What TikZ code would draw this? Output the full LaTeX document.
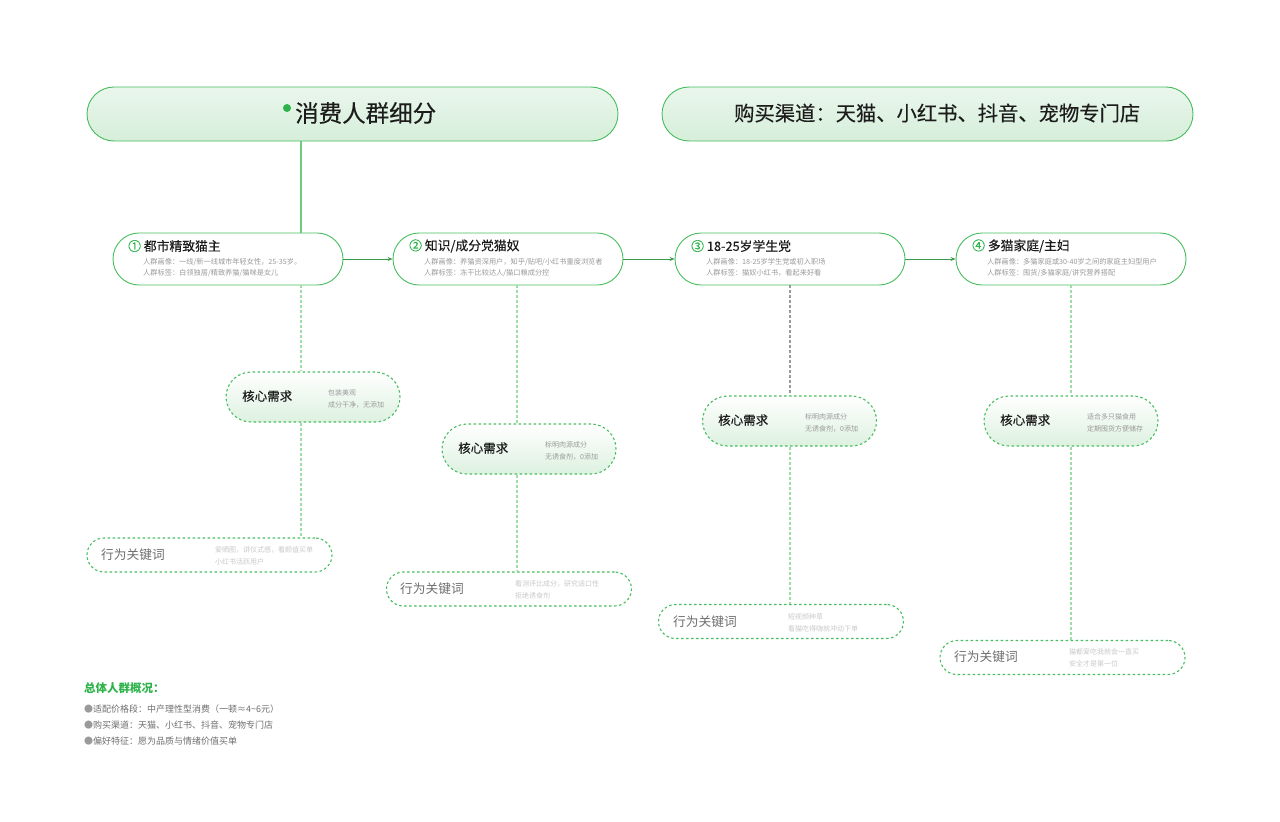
\documentclass[tikz,border=0pt]{standalone}
\usepackage{fontspec}
\setmainfont{Noto Sans CJK SC}
\newfontfamily\medfont{Noto Sans CJK SC}[FakeBold=0.25]
\usetikzlibrary{arrows.meta}

\definecolor{grn}{HTML}{2DB34A}
\definecolor{lgrn}{HTML}{46BE5E}
\definecolor{dgrn}{HTML}{3A9A4A}
\definecolor{pgrn}{HTML}{9EDCA8}
\definecolor{hdtop}{HTML}{EAF7EC}
\definecolor{hdbot}{HTML}{D6EEDA}
\definecolor{cbot}{HTML}{DDF1E0}
\definecolor{ink}{HTML}{1C1C1C}
\definecolor{gry}{HTML}{9A9A9A}
\definecolor{mgry}{HTML}{6E6E6E}
\definecolor{lgry}{HTML}{C9C9C9}

\tikzset{
  hdbox/.style={draw=lgrn, line width=0.9pt, rounded corners=27pt, top color=hdtop, bottom color=hdbot,
    minimum width=531pt, minimum height=54pt},
  hdtext/.style={anchor=west, inner sep=0pt, text=ink},
  perbox/.style={draw=lgrn, line width=0.9pt, rounded corners=26pt, fill=white,
    minimum width=230pt, minimum height=52pt},
  pertitle/.style={anchor=west, inner sep=0pt, text=ink, font=\medfont\fontsize{12.8}{14}\selectfont},
  persmall/.style={anchor=west, inner sep=0pt, align=left, text=gry, font=\fontsize{7.2}{11}\selectfont},
  corebox/.style={draw=lgrn, line width=1.1pt, dash pattern=on 2.5pt off 2.5pt, rounded corners=25pt,
    top color=white, bottom color=cbot, minimum width=174pt, minimum height=50pt},
  coretitle/.style={anchor=west, inner sep=0pt, text=ink, font=\medfont\fontsize{12.5}{14}\selectfont},
  coresmall/.style={anchor=west, inner sep=0pt, align=left, text=gry, font=\fontsize{7}{12}\selectfont},
  kwbox/.style={draw=lgrn, line width=1.1pt, dash pattern=on 2.5pt off 2.5pt, rounded corners=17pt,
    fill=white, minimum width=245pt, minimum height=34pt},
  kwtitle/.style={anchor=west, inner sep=0pt, text=mgry, font=\fontsize{12.7}{14}\selectfont},
  kwsmall/.style={anchor=west, inner sep=0pt, align=left, text=lgry, font=\fontsize{7}{12}\selectfont},
  flow/.style={draw=dgrn, line width=0.8pt, -{Stealth[length=5pt,width=4pt]}},
  vline/.style={draw=pgrn, line width=1.2pt, dash pattern=on 3pt off 2pt},
  sumtext/.style={anchor=west, inner sep=0pt, text=mgry, font=\fontsize{9}{11}\selectfont},
}

\begin{document}
\begin{tikzpicture}[x=1pt, y=-1pt]
  \useasboundingbox (0,0) rectangle (1280,822);

  % 1. 顶部标题栏
  \node[hdbox] (h1) at (352.5,114) {};
  \node[hdbox] (h2) at (927.5,114) {};
  \node[circle, fill=grn, inner sep=0pt, minimum size=8pt] (hdot) at (287,108) {};
  \node[hdtext, font=\medfont\fontsize{23.5}{26}\selectfont] (h1t) at (295,113) {消费人群细分};
  \node[hdtext, font=\medfont\fontsize{20.3}{24}\selectfont] (h2t) at (734,113) {购买渠道：天猫、小红书、抖音、宠物专门店};

  % 竖线位置
  \coordinate (l1) at (301,0);
  \coordinate (l2) at (517,0);
  \coordinate (l3) at (790,0);
  \coordinate (l4) at (1071,0);

  % 2. 四类人群
  \node[perbox] (p1) at (228,259) {};
  \node[perbox] (p2) at (508,259) {};
  \node[perbox] (p3) at (790,259) {};
  \node[perbox] (p4) at (1071,259) {};

  \node[pertitle] (p1t) at (128,246) {\textcolor{grn}{①} 都市精致猫主};
  \node[persmall] (p1s) at (143,267.5) {人群画像：一线/新一线城市年轻女性，25-35岁。\\人群标签：白领独居/精致养猫/猫咪是女儿};
  \node[pertitle] (p2t) at (409,246) {\textcolor{grn}{②} 知识/成分党猫奴};
  \node[persmall] (p2s) at (424,267.5) {人群画像：养猫资深用户，知乎/贴吧/小红书重度浏览者\\人群标签：冻干比较达人/猫口粮成分控};
  \node[pertitle] (p3t) at (691,246) {\textcolor{grn}{③} 18-25岁学生党};
  \node[persmall] (p3s) at (706,267.5) {人群画像：18-25岁学生党或初入职场\\人群标签：猫奴小红书，看起来好看};
  \node[pertitle] (p4t) at (972,246) {\textcolor{grn}{④} 多猫家庭/主妇};
  \node[persmall] (p4s) at (987,267.5) {人群画像：多猫家庭或30-40岁之间的家庭主妇型用户\\人群标签：囤货/多猫家庭/讲究营养搭配};

  % 3. 核心需求
  \node[corebox] (c1) at (313,397) {};
  \node[corebox] (c2) at (529,449) {};
  \node[corebox] (c3) at (789.5,421) {};
  \node[corebox] (c4) at (1071,421) {};

  \node[coretitle] (c1t) at (242,396) {核心需求};
  \node[coresmall] (c1s) at (328,399) {包装美观\\成分干净，无添加};
  \node[coretitle] (c2t) at (458,448) {核心需求};
  \node[coresmall] (c2s) at (545,451) {标明肉源成分\\无诱食剂，0添加};
  \node[coretitle] (c3t) at (718,420) {核心需求};
  \node[coresmall] (c3s) at (805,423) {标明肉源成分\\无诱食剂，0添加};
  \node[coretitle] (c4t) at (1000,420) {核心需求};
  \node[coresmall] (c4s) at (1087,423) {适合多只猫食用\\定期囤货方便储存};

  % 4. 行为关键词
  \node[kwbox] (k1) at (209.5,555) {};
  \node[kwbox] (k2) at (509,589) {};
  \node[kwbox] (k3) at (781,621.5) {};
  \node[kwbox] (k4) at (1062.5,657.5) {};

  \node[kwtitle] (k1t) at (101,555) {行为关键词};
  \node[kwsmall] (k1s) at (215,556) {爱晒图，讲仪式感，看颜值买单\\小红书活跃用户};
  \node[kwtitle] (k2t) at (400,589) {行为关键词};
  \node[kwsmall] (k2s) at (515,590) {看测评比成分，研究适口性\\拒绝诱食剂};
  \node[kwtitle] (k3t) at (673,622) {行为关键词};
  \node[kwsmall] (k3s) at (788,623) {短视频种草\\看猫吃得嗨就冲动下单};
  \node[kwtitle] (k4t) at (954,657) {行为关键词};
  \node[kwsmall] (k4s) at (1069,658) {猫都爱吃我就会一直买\\安全才是第一位};

  % 5. 连线
  \draw[lgrn!80, line width=1.2pt] (l1 |- h1.south) -- (l1 |- p1.north);
  \draw[flow] (p1) -- (p2);
  \draw[flow] (p2) -- (p3);
  \draw[flow] (p3) -- (p4);

  \draw[vline] (l1 |- p1.south) -- (l1 |- c1.north);
  \draw[vline] (l1 |- c1.south) -- (l1 |- k1.north);
  \draw[vline] (l2 |- p2.south) -- (l2 |- c2.north);
  \draw[vline] (l2 |- c2.south) -- (l2 |- k2.north);
  \draw[vline, draw=gry] (l3 |- p3.south) -- (l3 |- c3.north);
  \draw[vline] (l3 |- c3.south) -- (l3 |- k3.north);
  \draw[vline] (l4 |- p4.south) -- (l4 |- c4.north);
  \draw[vline] (l4 |- c4.south) -- (l4 |- k4.north);

  % 6. 总体人群概况
  \node[anchor=west, inner sep=0pt, text=grn, font=\fontsize{11.5}{13}\selectfont\bfseries] (sumt) at (84,688) {总体人群概况：};
  \node[sumtext] (sum1) at (84,709) {\textcolor{gry}{●}适配价格段：中产理性型消费（一顿≈4\textasciitilde6元）};
  \node[sumtext] (sum2) at (84,725) {\textcolor{gry}{●}购买渠道：天猫、小红书、抖音、宠物专门店};
  \node[sumtext] (sum3) at (84,741) {\textcolor{gry}{●}偏好特征：愿为品质与情绪价值买单};
\end{tikzpicture}
\end{document}
